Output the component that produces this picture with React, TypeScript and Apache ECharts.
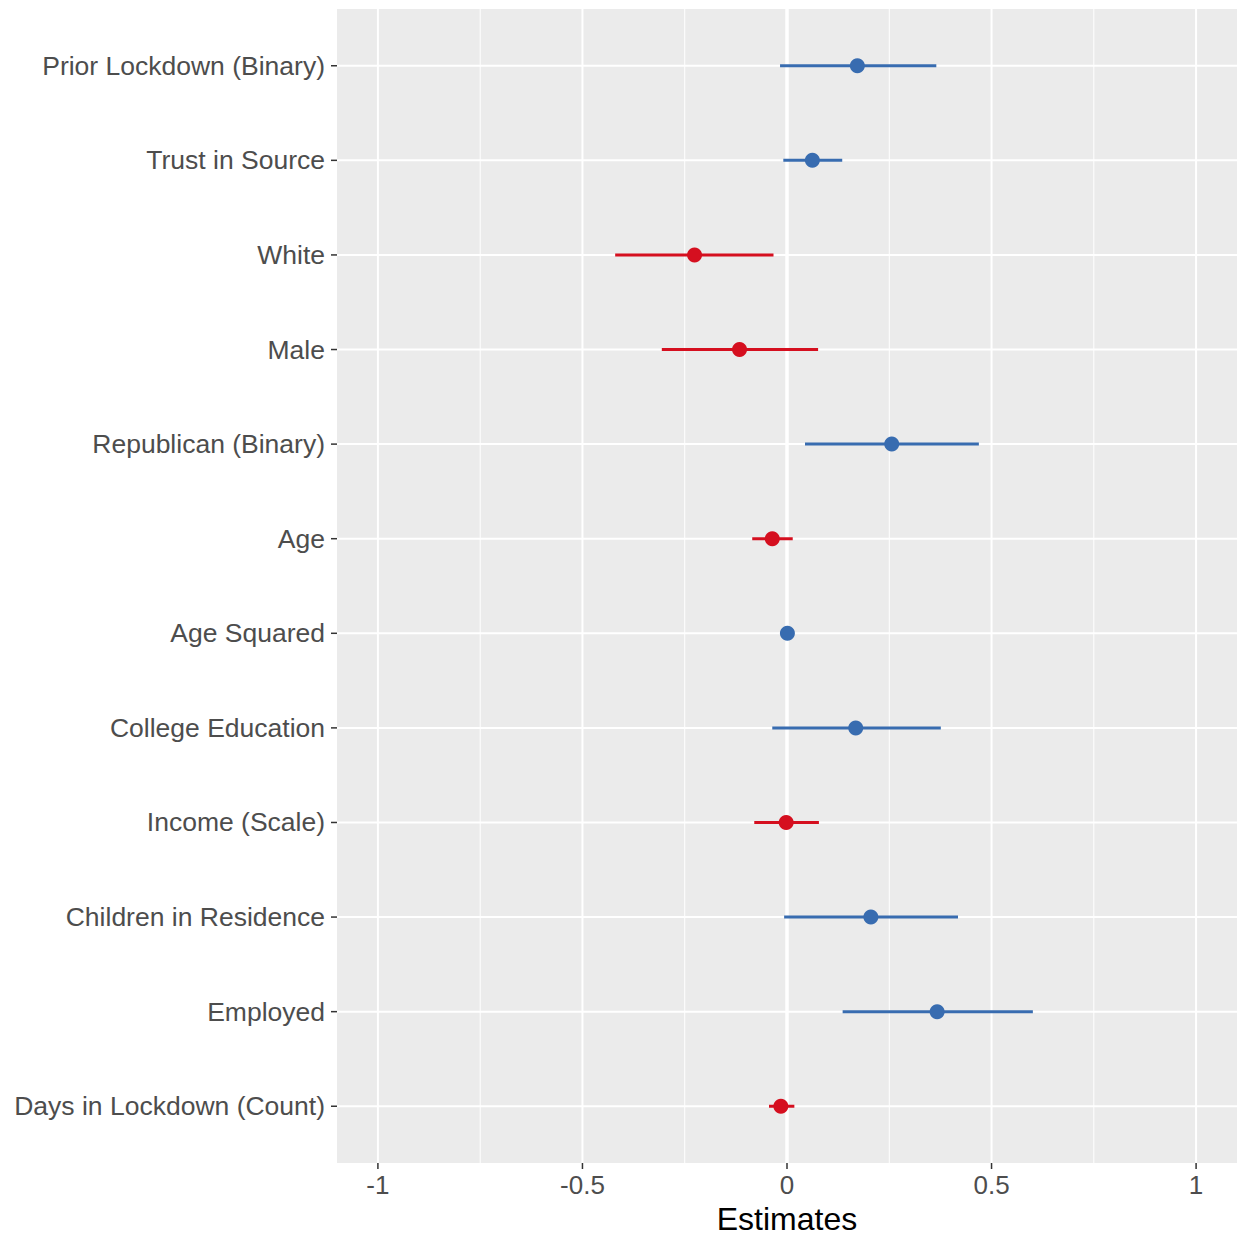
import React, { useEffect, useRef } from "react";
import * as echarts from "echarts";

const categories = [
  "Prior Lockdown (Binary)",
  "Trust in Source",
  "White",
  "Male",
  "Republican (Binary)",
  "Age",
  "Age Squared",
  "College Education",
  "Income (Scale)",
  "Children in Residence",
  "Employed",
  "Days in Lockdown (Count)",
];
const estimates = [0.172, 0.062, -0.226, -0.116, 0.256, -0.036, 0.001, 0.168, -0.002, 0.205, 0.367, -0.015];
const ciLow = [-0.017, -0.009, -0.42, -0.306, 0.044, -0.085, -0.004, -0.036, -0.08, -0.007, 0.136, -0.044];
const ciHigh = [0.365, 0.135, -0.033, 0.076, 0.469, 0.014, 0.006, 0.376, 0.078, 0.418, 0.601, 0.018];
const xMajorTicks = [-1, -0.5, 0, 0.5, 1];
const xMinorTicks = [-0.75, -0.25, 0.25, 0.75];
const xTickLabels = ["-1", "-0.5", "0", "0.5", "1"];

const BLUE = "#386cb0";
const RED = "#d50f1f";

export default function App() {
  const ref = useRef<HTMLDivElement>(null);
  useEffect(() => {
    document.body.style.margin = "0";
    const chart = echarts.init(ref.current!, null, { renderer: "svg" });
    const idx = categories.map((_, i) => i + 1);
    const colorOf = (i: number) => (estimates[i] > 0 ? BLUE : RED);
    const font = "Liberation Sans, Arial, sans-serif";

    chart.setOption({
      animation: false,
      grid: {
        left: 337,
        right: 2,
        top: 9,
        bottom: 76,
        show: true,
        backgroundColor: "#ebebeb",
        borderWidth: 0,
        containLabel: false,
        outerBoundsMode: "none",
      },
      xAxis: {
        type: "value",
        min: -1.1,
        max: 1.1,
        name: "Estimates",
        nameLocation: "middle",
        nameGap: 39,
        nameTextStyle: { fontSize: 32, color: "#000", fontFamily: font },
        axisLine: { show: false, onZero: false },
        axisTick: { show: false },
        axisLabel: {
          customValues: xMajorTicks,
          formatter: (v: number) => xTickLabels[xMajorTicks.indexOf(v)] ?? String(v),
          fontSize: 26,
          color: "#4d4d4d",
          fontFamily: font,
          margin: 9,
        },
        splitLine: { show: false },
      },
      yAxis: {
        type: "value",
        inverse: true,
        min: 0.4,
        max: 12.6,
        axisLine: { show: false, onZero: false },
        axisTick: { show: false },
        axisLabel: {
          customValues: idx,
          formatter: (v: number) => categories[Math.round(v) - 1] ?? "",
          fontSize: 26.5,
          color: "#4d4d4d",
          fontFamily: font,
          margin: 12,
        },
        splitLine: { show: false },
      },
      series: [
        {
          type: "custom",
          z: 1,
          silent: true,
          clip: false,
          data: [0],
          renderItem: (params: any, api: any) => {
            const cs = params.coordSys;
            const children: any[] = [];
            const bottom = cs.y + cs.height;
            xMinorTicks.forEach((t) => {
              const p = api.coord([t, 1]);
              children.push({
                type: "line",
                shape: { x1: p[0], y1: cs.y, x2: p[0], y2: bottom },
                style: { stroke: "#fff", lineWidth: 1 },
              });
            });
            xMajorTicks.forEach((t) => {
              const p = api.coord([t, 1]);
              children.push({
                type: "line",
                shape: { x1: p[0], y1: cs.y, x2: p[0], y2: bottom },
                style: { stroke: "#fff", lineWidth: 2 },
              });
              children.push({
                type: "line",
                shape: { x1: p[0], y1: bottom, x2: p[0], y2: bottom + 6 },
                style: { stroke: "#333", lineWidth: 1.5 },
              });
            });
            idx.forEach((v) => {
              const p = api.coord([0, v]);
              children.push({
                type: "line",
                shape: { x1: cs.x, y1: p[1], x2: cs.x + cs.width, y2: p[1] },
                style: { stroke: "#fff", lineWidth: 2 },
              });
              children.push({
                type: "line",
                shape: { x1: cs.x - 6, y1: p[1], x2: cs.x, y2: p[1] },
                style: { stroke: "#333", lineWidth: 1.5 },
              });
            });
            const z = api.coord([0, 1]);
            children.push({
              type: "line",
              shape: { x1: z[0], y1: cs.y, x2: z[0], y2: bottom },
              style: { stroke: "#fff", lineWidth: 3.5 },
            });
            return { type: "group", children };
          },
        },
        {
          type: "custom",
          z: 3,
          silent: true,
          data: categories.map((_, i) => [ciLow[i], ciHigh[i], i + 1, i]),
          renderItem: (params: any, api: any) => {
            const y = api.value(2);
            const p1 = api.coord([api.value(0), y]);
            const p2 = api.coord([api.value(1), y]);
            return {
              type: "line",
              shape: { x1: p1[0], y1: p1[1], x2: p2[0], y2: p2[1] },
              style: { stroke: colorOf(api.value(3)), lineWidth: 3 },
            };
          },
        },
        {
          type: "scatter",
          z: 4,
          symbol: "circle",
          symbolSize: 15,
          data: categories.map((_, i) => ({
            value: [estimates[i], i + 1],
            itemStyle: { color: colorOf(i), opacity: 1 },
          })),
        },
      ],
    });
    return () => chart.dispose();
  }, []);
  return <div ref={ref} style={{ width: 1239, height: 1239 }} />;
}
